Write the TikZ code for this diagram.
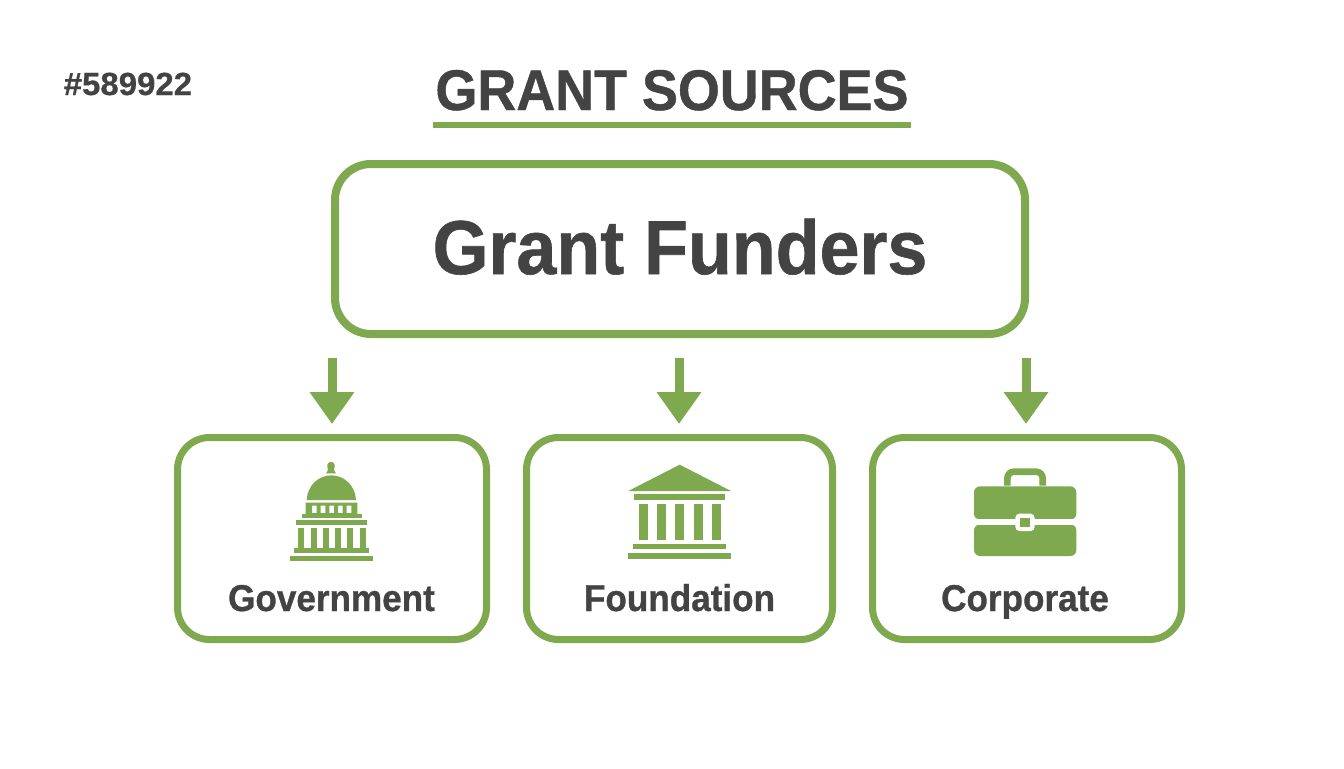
\documentclass[tikz,border=0pt]{standalone}
\usepackage{fontspec}
\setmainfont[BoldFeatures={FakeStretch=0.94,FakeBold=0.8}]{Liberation Sans}
\newfontfamily\hexfont[BoldFeatures={FakeStretch=1.03,FakeBold=0.6}]{Liberation Sans}
\usetikzlibrary{arrows.meta}
\definecolor{grn}{HTML}{7FA94F}
\definecolor{ink}{HTML}{434343}
\tikzset{
  px/.style={x=0.75pt,y=-0.75pt},
  topbox/.style={draw=grn,line width=6pt,rounded corners=27pt,minimum width=517.5pt,minimum height=127.5pt,fill=white},
  subbox/.style={draw=grn,line width=5.25pt,rounded corners=24pt,minimum height=151.5pt,fill=white},
  txt/.style={text=ink,inner sep=0pt,anchor=base},
  sublabel/.style={txt,font=\bfseries\fontsize{28}{30}\selectfont},
  flow/.style={draw=grn,line width=6.75pt,-{Triangle[width=32pt,length=24pt]}},
  icon/.style={fill=grn,draw=none}
}
\begin{document}
\begin{tikzpicture}[px]
\useasboundingbox (0,0) rectangle (1344,768);
\fill[white] (0,0) rectangle (1344,768);
\node[txt,anchor=base west,font=\hexfont\bfseries\fontsize{24}{26}\selectfont] (hex) at (63.5,95) {\#589922};
\node[txt,font=\bfseries\fontsize{43}{46}\selectfont] (title) at (672,110) {GRANT SOURCES};
\coordinate (ulL) at (433,125); \coordinate (ulR) at (911,125);
\draw[grn,line width=4.5pt] (ulL) -- (ulR);
\node[topbox] (top) at (680,249) {};
\node[txt,font=\bfseries\fontsize{57.3}{62}\selectfont] (toptxt) at (680,274) {Grant Funders};
\node[subbox,minimum width=231.75pt] (gov) at (332,538.5) {};
\node[subbox,minimum width=229.5pt] (fou) at (679.5,538.5) {};
\node[subbox,minimum width=231.75pt] (cor) at (1027,538.5) {};
\node[sublabel] (govt) at (331.5,611) {Government};
\node[sublabel] (fout) at (679.5,611) {Foundation};
\node[sublabel] (cort) at (1025,611) {Corporate};
\coordinate (a1s) at (332,358); \coordinate (a1e) at (332,424);
\coordinate (a2s) at (679,358); \coordinate (a2e) at (679,424);
\coordinate (a3s) at (1026,358); \coordinate (a3e) at (1026,424);
\draw[flow] (a1s) -- (a1e);
\draw[flow] (a2s) -- (a2e);
\draw[flow] (a3s) -- (a3e);
% capitol
\begin{scope}[shift={(270,450)},x=0.25pt,y=-0.25pt]
\fill[icon] (168,70) -- (174,60) -- (172,50) .. controls (170,30) and (196,30) .. (194,50) -- (192,60) -- (198,70) -- cycle;
\fill[icon] (110,150) .. controls (112,106) and (146,76) .. (184,76) .. controls (222,76) and (256,106) .. (258,150) -- cycle;
\fill[icon,even odd rule] (107,158) rectangle (262,192) (126,167) rectangle (140,189) (152,167) rectangle (166,189) (178,167) rectangle (192,189) (204,167) rectangle (218,189) (230,167) rectangle (244,189);
\fill[icon] (95,191) rectangle (275,203);
\fill[icon] (79,210) rectangle (292,226);
\foreach \c in {84,122,158,195,232,269} \fill[icon] (\c,234) rectangle (\c+18,293);
\fill[icon] (73,293) rectangle (297,308);
\fill[icon] (60,317) rectangle (310,333);
\end{scope}
% foundation
\begin{scope}[shift={(615,450)},x=0.25pt,y=-0.25pt]
\fill[icon] (40,123) -- (194,44) -- (348,123) -- cycle;
\fill[icon] (58,133) rectangle (331,151);
\foreach \c in {72,127,181,236,290} \fill[icon] (\c,163) rectangle (\c+27,270);
\fill[icon] (54,282) rectangle (334,298);
\fill[icon] (38,308) rectangle (349,326);
\end{scope}
% briefcase
\begin{scope}[shift={(960,455)},x=0.25pt,y=-0.25pt]
\draw[grn,line width=5pt,rounded corners=5pt] (142,92) -- (142,50) -- (248,50) -- (248,92);
\fill[icon,rounded corners=4.5pt] (42,194) -- (42,94) -- (349,94) -- (349,194) -- cycle;
\fill[icon,rounded corners=4.5pt] (42,208) -- (42,303) -- (349,303) -- (349,208) -- cycle;
\fill[white] (42,193) rectangle (349,209);
\fill[white,rounded corners=3pt] (166,176) rectangle (224,228);
\fill[icon] (180,189) rectangle (210,215);
\end{scope}
\end{tikzpicture}
\end{document}
